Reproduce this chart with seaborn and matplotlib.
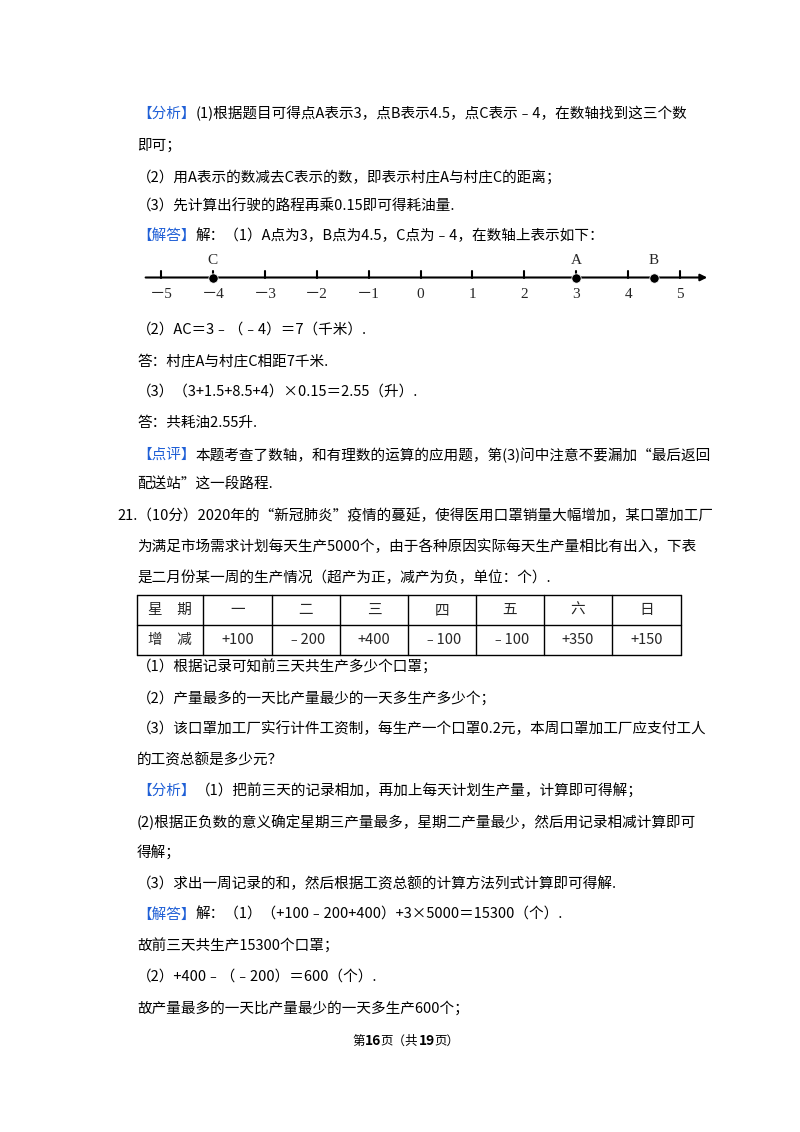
import matplotlib
matplotlib.use("Agg")
import matplotlib.pyplot as plt
import seaborn as sns
import pandas as pd

sns.set_theme(style="white")
plt.rcParams['font.family'] = ['Noto Sans CJK SC', 'DejaVu Sans']

tick_values = [-5, -4, -3, -2, -1, 0, 1, 2, 3, 4, 5]
tick_labels = ['－5', '－4', '－3', '－2', '－1', '0', '1', '2', '3', '4', '5']
point_names = ['C', 'A', 'B']
point_values = [-4, 3, 4.5]
table_days = ['星　期', '一', '二', '三', '四', '五', '六', '日']
table_changes = ['增　减', '+100', '﹣200', '+400', '﹣100', '﹣100', '+350', '+150']

BLUE = '#1f5fd6'
fig = plt.figure(figsize=(8, 11.32), dpi=100)
page = fig.add_axes([0, 0, 1, 1])
page.set_xlim(0, 800); page.set_ylim(1132, 0); page.axis('off')
FS = 10.5
R = fig.canvas.get_renderer()

def line(x, y, parts, fs=FS):
    cx = x
    for p in parts:
        s, c = p[0], p[1]
        w = p[2] if len(p) > 2 else 'normal'
        f = p[3] if len(p) > 3 else fs
        tt = page.text(cx, y, s, fontsize=f, va='center', color=c, fontweight=w)
        bb = tt.get_window_extent(renderer=R)
        cx += bb.width
    return cx

K = 'black'
line(137, 114, [('【分析】', BLUE), ('(1)根据题目可得点A表示3，点B表示4.5，点C表示﹣4，在数轴找到这三个数', K)])
line(137, 146, [('即可；', K)])
line(137, 177, [('（2）用A表示的数减去C表示的数，即表示村庄A与村庄C的距离；', K)])
line(137, 206, [('（3）先计算出行驶的路程再乘0.15即可得耗油量.', K)])
line(137, 236, [('【解答】', BLUE), ('解：（1）A点为3，B点为4.5，C点为﹣4，在数轴上表示如下：', K)])
line(137, 330, [('（2）AC＝3﹣（﹣4）＝7（千米）.', K)])
line(137, 361, [('答：村庄A与村庄C相距7千米.', K)])
line(137, 392, [('（3）（3+1.5+8.5+4）×0.15＝2.55（升）.', K)])
line(137, 423, [('答：共耗油2.55升.', K)])
line(137, 455, [('【点评】', BLUE), ('本题考查了数轴，和有理数的运算的应用题，第(3)问中注意不要漏加“最后返回', K)])
line(137, 485, [('配送站”这一段路程.', K)])
line(117, 516, [('21.（10分）2020年的“新冠肺炎”疫情的蔓延，使得医用口罩销量大幅增加，某口罩加工厂', K)])
line(137, 547, [('为满足市场需求计划每天生产5000个，由于各种原因实际每天生产量相比有出入，下表', K)])
line(137, 578, [('是二月份某一周的生产情况（超产为正，减产为负，单位：个）.', K)])
line(137, 667, [('（1）根据记录可知前三天共生产多少个口罩；', K)])
line(137, 698, [('（2）产量最多的一天比产量最少的一天多生产多少个；', K)])
line(137, 729, [('（3）该口罩加工厂实行计件工资制，每生产一个口罩0.2元，本周口罩加工厂应支付工人', K)])
line(137, 760, [('的工资总额是多少元？', K)])
line(137, 791, [('【分析】', BLUE), ('（1）把前三天的记录相加，再加上每天计划生产量，计算即可得解；', K)])
line(137, 822, [('(2)根据正负数的意义确定星期三产量最多，星期二产量最少，然后用记录相减计算即可', K)])
line(137, 853, [('得解；', K)])
line(137, 884, [('（3）求出一周记录的和，然后根据工资总额的计算方法列式计算即可得解.', K)])
line(137, 915, [('【解答】', BLUE), ('解：（1）（+100﹣200+400）+3×5000＝15300（个）.', K)])
line(137, 946, [('故前三天共生产15300个口罩；', K)])
line(137, 977, [('（2）+400﹣（﹣200）＝600（个）.', K)])
line(137, 1008, [('故产量最多的一天比产量最少的一天多生产600个；', K)])

# footer
line(352, 1041, [('第', K, 'normal', 9), ('16', K, 'bold', 10), ('页（共', K, 'normal', 9),
                 ('19', K, 'bold', 10), ('页）', K, 'normal', 9)])

# table
cols = [137, 203, 272, 340, 408, 476, 544, 612, 681]
rows = [595, 625, 655]
for c in cols:
    page.plot([c, c], [rows[0], rows[-1]], color='black', lw=1)
for r in rows:
    page.plot([cols[0], cols[-1]], [r, r], color='black', lw=1)
for i in range(8):
    cx = (cols[i] + cols[i + 1]) / 2
    page.text(cx, 610, table_days[i], fontsize=FS, ha='center', va='center')
    page.text(cx, 640, table_changes[i], fontsize=FS, ha='center', va='center')

# number line
ax = fig.add_axes([140 / 800, 1 - 300 / 1132, 570 / 800, 45 / 1132])
ax.annotate('', xy=(5.578, 0), xytext=(-5.35, 0),
            arrowprops=dict(arrowstyle='-|>', color='black', lw=1.5, mutation_scale=10))
for v, lab in zip(tick_values, tick_labels):
    ax.plot([v, v], [0, 0.3], color='black', lw=1.5)
    ax.text(v, -0.75, lab, fontsize=11, ha='center', va='center', family=['Liberation Serif', 'Noto Sans CJK SC'])
df = pd.DataFrame({'name': point_names, 'value': point_values, 'y': [0] * 3})
sns.scatterplot(data=df, x='value', y='y', ax=ax, color='black', s=45, zorder=5, legend=False)
ax.set_xlim(-5.405, 5.578); ax.set_ylim(-1, 1); ax.axis('off')
for n, v in zip(point_names, point_values):
    ax.text(v, 0.75, n, fontsize=11, ha='center', va='center', family='Liberation Serif')

fig.savefig('out.png', dpi=100)
